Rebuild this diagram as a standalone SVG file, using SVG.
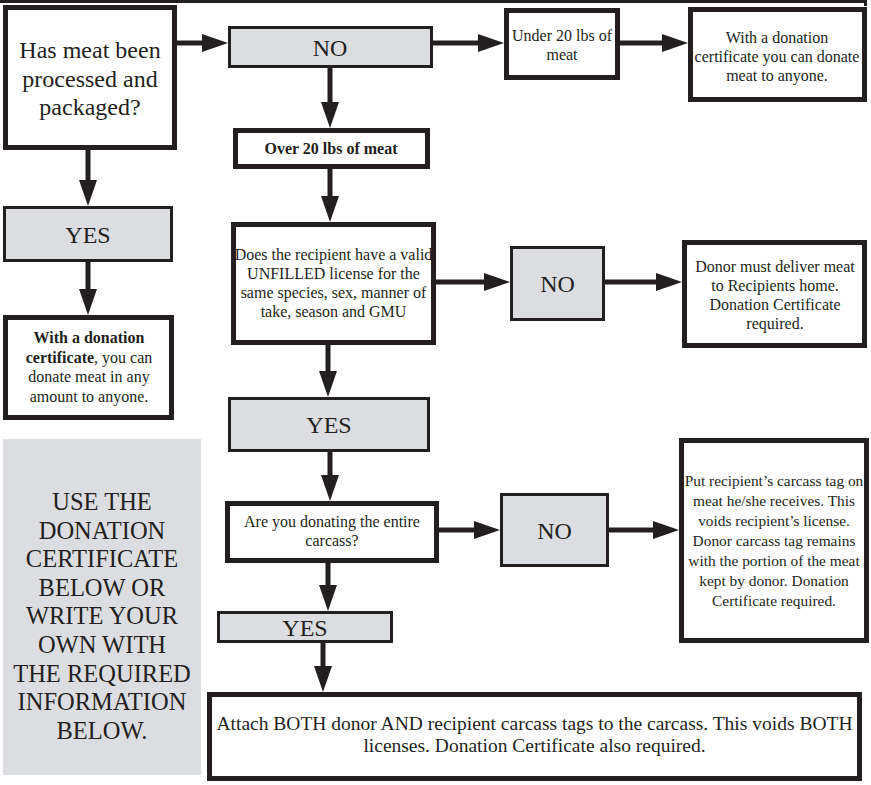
<svg xmlns="http://www.w3.org/2000/svg" width="871" height="785" viewBox="0 0 871 785">
<style>
  .thick{fill:#ffffff;stroke:#231f20;stroke-width:5}
  .grey{fill:#dcdde0;stroke:#231f20;stroke-width:3}
  .panel{fill:#dcdde0;stroke:none}
  text{font-family:"Liberation Serif","Times New Roman",serif;fill:#231f20;text-anchor:middle}
  .big{font-size:24px}
  .sm{font-size:16px}
  .pt{font-size:15.4px}
  .pan{font-size:24.5px}
  .att{font-size:19.5px}
  .b{font-weight:bold}
  .conn line{stroke:#231f20;stroke-width:5;fill:none}
</style>
<defs>
  <marker id="ah" markerUnits="userSpaceOnUse" markerWidth="26" markerHeight="18" refX="6" refY="9" orient="auto">
    <path d="M0,0 L26,9 L0,18 Z" fill="#231f20"/>
  </marker>
</defs>
<rect width="871" height="785" fill="#ffffff"/>
<g id="top-rule">
  <rect x="0" y="0" width="867" height="3" fill="#231f20"/>
  <rect x="864" y="0" width="3" height="6" fill="#231f20"/>
</g>

<g class="conn" id="connectors">
  <line x1="177" y1="43" x2="208" y2="43" marker-end="url(#ah)"/>
  <line x1="433" y1="43" x2="484" y2="43" marker-end="url(#ah)"/>
  <line x1="620" y1="43" x2="668" y2="43" marker-end="url(#ah)"/>
  <line x1="330" y1="68" x2="330" y2="108" marker-end="url(#ah)"/>
  <line x1="330" y1="169" x2="330" y2="202" marker-end="url(#ah)"/>
  <line x1="88" y1="150" x2="88" y2="186" marker-end="url(#ah)"/>
  <line x1="88" y1="262" x2="88" y2="295" marker-end="url(#ah)"/>
  <line x1="436" y1="282" x2="490" y2="282" marker-end="url(#ah)"/>
  <line x1="605" y1="282" x2="662" y2="282" marker-end="url(#ah)"/>
  <line x1="328" y1="345" x2="328" y2="377" marker-end="url(#ah)"/>
  <line x1="330" y1="452" x2="330" y2="481" marker-end="url(#ah)"/>
  <line x1="439" y1="530" x2="480" y2="530" marker-end="url(#ah)"/>
  <line x1="609" y1="530" x2="659" y2="530" marker-end="url(#ah)"/>
  <line x1="328" y1="563" x2="328" y2="591" marker-end="url(#ah)"/>
  <line x1="323" y1="643" x2="323" y2="672" marker-end="url(#ah)"/>
</g>

<g id="q-processed">
  <rect class="thick" x="5.5" y="7.5" width="169" height="140"/>
  <text class="big" x="90" y="58">Has meat been</text>
  <text class="big" x="90" y="87">processed and</text>
  <text class="big" x="90" y="115">packaged?</text>
</g>

<g id="no-top">
  <rect class="grey" x="229.5" y="27.5" width="202" height="39"/>
  <text class="big" x="330" y="56">NO</text>
</g>

<g id="under-20">
  <rect class="thick" x="506.5" y="10.5" width="111" height="67"/>
  <text class="sm" x="562" y="41">Under 20 lbs of</text>
  <text class="sm" x="562" y="60">meat</text>
</g>

<g id="cert-anyone">
  <rect class="thick" x="690.5" y="9.5" width="174" height="90"/>
  <text class="sm" x="777" y="43">With a donation</text>
  <text class="sm" x="777" y="62">certificate you can donate</text>
  <text class="sm" x="777" y="81">meat to anyone.</text>
</g>

<g id="over-20">
  <rect class="thick" x="235.5" y="130.5" width="192" height="36"/>
  <text class="sm b" font-size="15.5" x="331" y="154">Over 20 lbs of meat</text>
</g>

<g id="yes-left">
  <rect class="grey" x="4.5" y="207.5" width="167" height="53"/>
  <text class="big" x="88" y="243">YES</text>
</g>

<g id="cert-any-amount">
  <rect class="thick" x="5.5" y="317.5" width="166" height="100"/>
  <text class="sm" x="89" y="343"><tspan class="b">With a donation</tspan></text>
  <text class="sm" x="89" y="362.5"><tspan class="b">certificate</tspan>, you can</text>
  <text class="sm" x="89" y="382">donate meat in any</text>
  <text class="sm" x="89" y="401.5">amount to anyone.</text>
</g>

<g id="info-panel">
  <rect class="panel" x="3" y="439" width="198" height="336"/>
  <text class="pan" x="102" y="510">USE THE</text>
  <text class="pan" x="102" y="538.6">DONATION</text>
  <text class="pan" x="102" y="567.2">CERTIFICATE</text>
  <text class="pan" x="102" y="595.8">BELOW OR</text>
  <text class="pan" x="102" y="624.4">WRITE YOUR</text>
  <text class="pan" x="102" y="653">OWN WITH</text>
  <text class="pan" x="102" y="681.6">THE REQUIRED</text>
  <text class="pan" x="102" y="710.2">INFORMATION</text>
  <text class="pan" x="102" y="738.8">BELOW.</text>
</g>

<g id="q-license">
  <rect class="thick" x="233.5" y="224.5" width="200" height="118"/>
  <text class="sm" x="333.5" y="260">Does the recipient have a valid</text>
  <text class="sm" x="333.5" y="279">UNFILLED license for the</text>
  <text class="sm" x="333.5" y="298">same species, sex, manner of</text>
  <text class="sm" x="333.5" y="317">take, season and GMU</text>
</g>

<g id="no-mid">
  <rect class="grey" x="511.5" y="247.5" width="92" height="72"/>
  <text class="big" x="557.5" y="292">NO</text>
</g>

<g id="deliver">
  <rect class="thick" x="684.5" y="242.5" width="180" height="103"/>
  <text class="sm" x="775" y="272">Donor must deliver meat</text>
  <text class="sm" x="775" y="291">to Recipients home.</text>
  <text class="sm" x="775" y="310">Donation Certificate</text>
  <text class="sm" x="775" y="329">required.</text>
</g>

<g id="yes-mid">
  <rect class="grey" x="229.5" y="398.5" width="199" height="52"/>
  <text class="big" x="329" y="433">YES</text>
</g>

<g id="q-entire">
  <rect class="thick" x="227.5" y="503.5" width="209" height="57"/>
  <text class="sm" x="332" y="527">Are you donating the entire</text>
  <text class="sm" x="332" y="546">carcass?</text>
</g>

<g id="no-low">
  <rect class="grey" x="501.5" y="494.5" width="106" height="71"/>
  <text class="big" x="554.5" y="538.5">NO</text>
</g>

<g id="partial">
  <rect class="thick" x="681.5" y="440.5" width="185" height="200"/>
  <text class="pt" x="774" y="486">Put recipient’s carcass tag on</text>
  <text class="pt" x="774" y="506">meat he/she receives. This</text>
  <text class="pt" x="774" y="526">voids recipient’s license.</text>
  <text class="pt" x="774" y="546">Donor carcass tag remains</text>
  <text class="pt" x="774" y="566">with the portion of the meat</text>
  <text class="pt" x="774" y="586">kept by donor. Donation</text>
  <text class="pt" x="774" y="606">Certificate required.</text>
</g>

<g id="yes-low">
  <rect class="grey" x="218.5" y="612.5" width="173" height="29"/>
  <text class="big" x="305" y="636">YES</text>
</g>

<g id="attach-both">
  <rect class="thick" x="209.5" y="694.5" width="650" height="84"/>
  <text class="att" x="534.5" y="730">Attach BOTH donor AND recipient carcass tags to the carcass. This voids BOTH</text>
  <text class="att" x="534.5" y="752">licenses. Donation Certificate also required.</text>
</g>
</svg>
